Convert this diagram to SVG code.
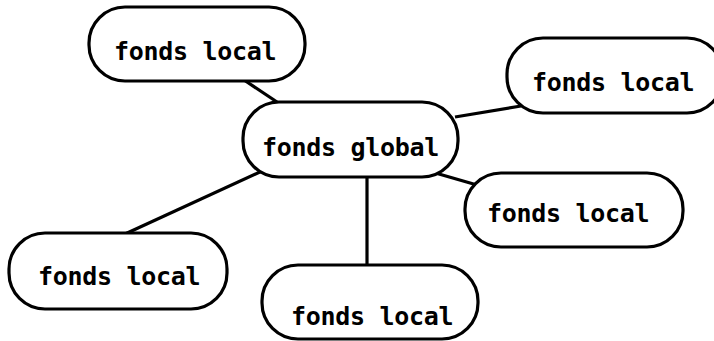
<svg xmlns="http://www.w3.org/2000/svg" width="714" height="341" viewBox="0 0 714 341">
<style>
.n{fill:#fff;stroke:#000;stroke-width:3.2}
.t{font-family:"DejaVu Sans Mono","Liberation Mono",monospace;font-weight:bold;font-size:25px;letter-spacing:-0.3px;fill:#000}
.c{stroke:#000;stroke-width:3.2;fill:none}
</style>
<rect width="714" height="341" fill="#fff"/>
<g id="connectors">
<line class="c" x1="244" y1="80" x2="280" y2="104"/>
<line class="c" x1="455" y1="117" x2="521" y2="106"/>
<line class="c" x1="432" y1="172" x2="477" y2="185"/>
<line class="c" x1="262" y1="171" x2="125" y2="234"/>
<line class="c" x1="367" y1="176" x2="367" y2="266"/>
</g>
<g id="global">
<rect class="n" x="243" y="102" width="215" height="75" rx="36"/>
<text class="t" x="262" y="156">fonds global</text>
</g>
<g id="local1">
<rect class="n" x="89" y="7" width="216" height="74" rx="36"/>
<text class="t" x="114" y="60">fonds local</text>
</g>
<g id="local2">
<rect class="n" x="507" y="38" width="216" height="75" rx="36"/>
<text class="t" x="532" y="91">fonds local</text>
</g>
<g id="local3">
<rect class="n" x="465" y="173" width="218" height="74" rx="36"/>
<text class="t" x="487" y="222">fonds local</text>
</g>
<g id="local4">
<rect class="n" x="9" y="233" width="218" height="76" rx="36"/>
<text class="t" x="38" y="285">fonds local</text>
</g>
<g id="local5">
<rect class="n" x="262" y="265" width="216" height="74" rx="36"/>
<text class="t" x="291" y="325">fonds local</text>
</g>
</svg>
